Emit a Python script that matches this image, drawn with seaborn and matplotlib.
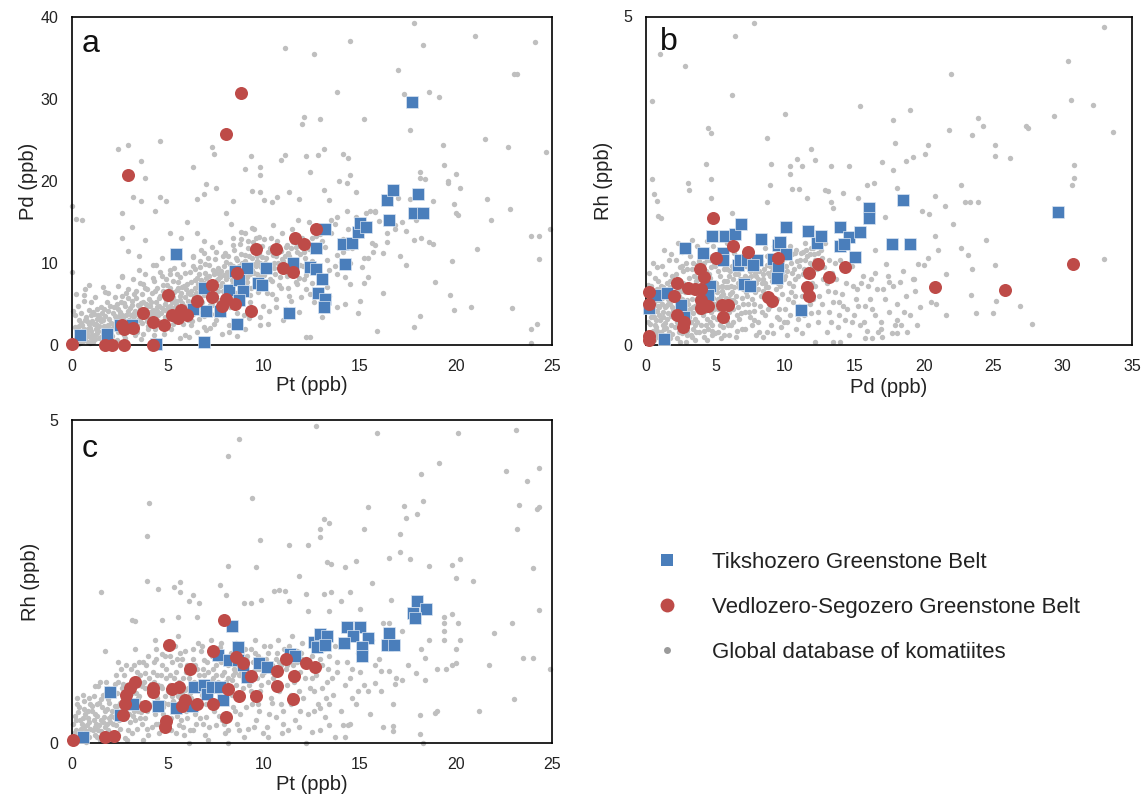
import matplotlib
matplotlib.use("Agg")
import matplotlib.pyplot as plt
from matplotlib.lines import Line2D
import seaborn as sns
import pandas as pd

# ---------------- data ----------------
# Panel a : Pt (x) vs Pd (y)
a_blue = [(0.4,1.2),(1.8,1.4),(2.5,2.4),(3.1,2.5),(4.4,0.1),(5.4,11.1),(6.3,4.4),(6.9,7.0),(6.9,0.4),
          (7.0,4.1),(7.7,4.1),(8.2,6.7),(8.5,9.0),(8.6,2.6),(8.7,7.9),(8.9,6.6),(8.7,5.5),(9.1,9.4),
          (9.7,7.6),(9.9,7.3),(10.1,9.4),(11.3,3.9),(11.5,10.0),(12.4,9.5),(12.7,11.8),(12.7,9.3),
          (13.0,8.0),(12.8,6.4),(13.2,5.6),(13.1,4.6),(13.2,14.2),(14.1,12.3),(14.6,12.5),(14.2,9.9),
          (14.9,13.8),(15.0,14.9),(15.3,14.4),(16.5,15.3),(16.4,17.7),(16.7,18.9),(18.0,18.4),
          (17.8,16.1),(18.3,16.1),(17.7,29.6)]
a_red = [(0.0,0.1),(1.7,0.0),(2.1,0.0),(2.7,0.0),(4.2,0.0),(2.9,20.7),(2.6,2.4),(2.7,1.9),(3.2,2.1),
         (3.7,3.9),(4.2,2.8),(4.8,2.5),(5.0,6.1),(5.2,3.7),(5.5,3.3),(5.7,4.3),(6.0,3.7),(6.5,5.4),
         (7.3,7.3),(7.3,5.8),(7.8,4.7),(8.0,5.6),(8.5,5.0),(8.6,8.8),(9.3,4.1),(9.6,11.7),(10.6,11.7),
         (11.0,9.4),(11.5,8.9),(11.6,13.1),(12.1,12.3),(12.7,14.2),(8.8,30.7),(8.0,25.7)]
a_gray = [
 (0.1,0.3),(0.2,0.8),(0.3,1.5),(0.4,0.2),(0.5,1.1),(0.6,2.0),(0.7,0.6),(0.8,1.4),(0.9,2.6),(0.95,0.3),
 (0.15,2.2),(0.35,3.1),(0.55,0.5),(0.75,3.4),(0.85,1.9),(0.25,1.2),(0.45,2.7),(0.65,1.0),(1.0,1.7),
 (0.05,4.2),(0.3,4.8),(0.6,5.4),(0.9,4.3),(0.2,6.2),(0.7,6.8),
 (1.1,0.4),(1.2,1.2),(1.3,2.1),(1.4,0.8),(1.5,2.9),(1.6,1.6),(1.7,3.5),(1.8,0.9),(1.9,2.4),(1.15,3.8),
 (1.35,1.7),(1.55,0.2),(1.65,2.3),(1.85,4.1),(1.95,1.3),(1.25,2.6),(1.45,3.3),(1.75,1.8),(1.05,2.9),
 (1.5,4.6),(1.8,5.3),(1.2,5.9),(1.6,7.1),(1.9,6.4),(1.3,4.4),(1.0,0.9),
 (2.1,1.1),(2.2,2.3),(2.3,3.2),(2.4,1.6),(2.5,4.0),(2.6,2.8),(2.7,1.2),(2.8,3.6),(2.9,2.1),(3.0,4.5),
 (2.15,3.9),(2.35,0.6),(2.45,2.9),(2.65,3.4),(2.75,4.8),(2.85,1.7),(2.95,3.1),(2.05,2.0),(2.55,5.3),
 (2.25,5.8),(2.8,6.3),(2.4,7.2),(2.9,5.7),(2.6,8.4),(2.2,4.6),(2.7,2.4),
 (3.1,1.8),(3.2,3.0),(3.3,4.2),(3.4,2.5),(3.5,3.7),(3.6,5.1),(3.7,1.4),(3.8,4.4),(3.9,2.9),(4.0,5.6),
 (3.15,5.4),(3.25,2.2),(3.45,4.9),(3.55,3.2),(3.65,6.2),(3.75,3.9),(3.85,5.0),(3.95,2.3),(3.35,6.6),
 (3.7,7.4),(3.2,8.1),(3.9,6.8),(3.5,9.2),(3.8,8.6),(3.05,3.6),(3.6,0.7),(3.3,1.2),
 (4.1,3.1),(4.2,4.3),(4.3,2.0),(4.4,5.2),(4.5,3.6),(4.6,6.0),(4.7,4.5),(4.8,2.7),(4.9,5.5),(5.0,4.0),
 (4.15,6.3),(4.25,1.2),(4.35,3.9),(4.45,7.0),(4.55,4.8),(4.65,2.3),(4.75,6.6),(4.85,3.4),(4.95,7.3),
 (4.2,8.2),(4.6,8.9),(4.4,9.8),(4.9,8.0),(4.7,10.6),(4.3,0.6),(4.8,1.4),(4.05,4.7),
 (5.1,4.7),(5.2,6.1),(5.3,3.3),(5.4,5.4),(5.5,7.0),(5.6,4.1),(5.7,6.4),(5.8,2.6),(5.9,5.8),(6.0,7.5),
 (5.15,2.0),(5.25,7.8),(5.35,4.6),(5.45,6.7),(5.55,3.0),(5.65,8.3),(5.75,5.1),(5.85,7.2),(5.95,4.3),
 (5.3,9.4),(5.8,9.9),(5.5,10.8),(5.1,8.6),(5.9,1.2),(5.6,0.8),(5.2,5.2),
 (6.1,5.0),(6.2,6.6),(6.3,3.8),(6.4,7.9),(6.5,5.6),(6.6,8.6),(6.7,4.6),(6.8,7.0),(6.9,6.1),(7.0,8.2),
 (6.15,8.9),(6.25,2.9),(6.35,6.0),(6.45,4.3),(6.55,7.4),(6.65,9.5),(6.75,5.3),(6.85,3.5),(6.95,9.9),
 (6.3,10.7),(6.7,11.6),(6.5,1.6),(6.9,2.2),(6.1,1.0),(6.6,6.9),(6.4,9.3),
 (7.1,6.4),(7.2,7.6),(7.3,4.9),(7.4,8.7),(7.5,6.0),(7.6,9.4),(7.7,7.2),(7.8,5.3),(7.9,8.5),(8.0,10.1),
 (7.15,9.8),(7.25,3.8),(7.35,6.8),(7.45,10.5),(7.55,7.9),(7.65,4.4),(7.75,9.0),(7.85,6.6),(7.95,11.2),
 (7.3,12.0),(7.7,12.6),(7.2,2.1),(7.8,1.3),(7.5,3.0),(7.6,8.1),
 (8.1,7.0),(8.2,8.8),(8.3,6.1),(8.4,9.6),(8.5,7.7),(8.6,10.4),(8.7,8.2),(8.8,5.5),(8.9,9.9),(9.0,11.0),
 (8.15,10.8),(8.25,4.6),(8.35,7.9),(8.45,11.6),(8.55,6.4),(8.65,9.1),(8.75,12.3),(8.85,7.4),(8.95,3.6),
 (8.4,13.0),(8.8,13.8),(8.2,2.5),(8.6,1.1),(8.9,8.6),(8.3,9.3),
 (9.1,8.3),(9.2,9.7),(9.3,6.9),(9.4,10.6),(9.5,8.8),(9.6,11.4),(9.7,7.6),(9.8,10.0),(9.9,12.1),(10.0,9.2),
 (9.15,11.8),(9.25,5.2),(9.35,9.1),(9.45,12.6),(9.55,7.2),(9.65,10.9),(9.75,13.2),(9.85,8.4),(9.95,4.8),
 (9.4,14.3),(9.8,2.4),(9.2,3.3),(9.6,9.6),
 (10.1,9.9),(10.2,11.3),(10.3,8.0),(10.4,12.0),(10.5,9.4),(10.6,10.8),(10.7,12.7),(10.8,7.3),(10.9,11.5),
 (11.0,10.2),(10.15,6.4),(10.35,13.1),(10.55,8.7),(10.75,10.0),(10.95,13.6),(10.25,4.1),(10.65,5.6),
 (10.45,14.6),(10.85,9.1),
 (11.1,10.9),(11.2,12.2),(11.3,9.0),(11.4,11.8),(11.5,13.4),(11.6,10.3),(11.7,12.6),(11.8,8.2),(11.9,11.1),
 (12.0,13.0),(11.25,6.9),(11.45,14.2),(11.65,7.7),(11.85,9.8),(11.15,4.4),(11.75,15.3),(11.95,5.8),
 (12.1,11.4),(12.3,12.5),(12.5,10.2),(12.7,13.3),(12.9,11.8),(12.2,8.5),(12.6,14.1),(12.8,9.4),(12.4,6.2),
 (13.0,12.7),(12.35,15.0),
 (13.2,12.0),(13.5,13.6),(13.8,11.0),(14.1,12.9),(14.4,14.1),(13.4,9.1),(13.7,14.8),(14.0,10.1),(14.6,11.8),
 (14.9,13.3),(13.3,7.1),(14.2,8.3),(14.8,15.6),
 (15.2,14.0),(15.6,12.4),(16.0,15.1),(16.4,13.7),(15.4,10.6),(16.8,14.6),(16.2,11.2),(15.8,16.2),
 (17.8,39.3),(21.0,37.7),(24.1,37.0),(14.5,37.1),(11.1,36.2),(12.6,35.5),(18.3,36.6),(17.0,33.5),(23.0,33.1),
 (23.2,33.1),(17.3,30.6),(18.6,30.8),(19.1,30.2),(13.8,30.8),(12.1,27.8),(12.0,26.9),(12.9,27.6),(15.2,27.5),
 (17.6,26.2),(21.5,25.1),(24.7,23.5),(19.3,24.4),(22.7,24.2),(2.4,23.9),(2.9,24.4),(4.6,24.9),(7.3,24.2),
 (7.4,23.3),(3.6,22.4),(9.3,23.0),(11.1,23.2),(10.9,22.6),(12.2,23.1),(12.8,23.2),(13.1,23.9),(14.1,23.3),
 (14.4,22.8),(9.8,21.7),(9.8,20.7),(9.0,21.5),(12.4,21.1),(14.5,20.7),(19.4,22.0),(20.0,20.9),(18.1,21.1),
 (18.1,20.4),(19.6,20.0),(19.6,19.8),(18.4,20.2),(20.2,19.1),(3.8,20.4),(3.2,18.1),(3.6,17.5),(4.6,18.1),
 (4.9,17.5),(6.5,17.8),(6.9,18.4),(7.0,19.6),(7.5,19.2),(6.3,21.7),(8.4,17.5),(9.4,18.8),(9.8,18.7),
 (10.0,17.7),(10.4,17.4),(10.7,18.1),(11.3,18.7),(11.8,17.8),(13.1,18.9),(13.4,17.7),(14.8,18.6),(13.9,20.0),
 (14.3,19.8),(17.0,17.9),(18.8,17.6),(19.9,17.2),(20.1,15.9),(21.6,17.8),(21.8,15.3),(22.8,16.6),(23.9,13.3),
 (24.3,13.3),(24.9,14.1),(24.3,10.5),(21.1,11.7),(19.8,10.2),(18.9,7.7),(19.7,6.1),(19.9,4.3),(20.8,4.6),
 (22.9,4.5),(23.9,1.9),(24.2,2.6),(23.9,0.2),(17.8,2.2),(18.1,3.5),(15.9,1.7),(16.2,6.4),(15.0,5.4),
 (14.9,3.9),(14.2,5.0),(14.5,7.5),(12.2,1.0),(12.4,1.0),(17.4,9.8),(17.1,10.9),(17.8,12.8),(18.2,13.1),
 (18.6,12.6),(18.8,12.3),(17.4,13.9),(16.8,14.2),(17.2,15.0),(17.9,15.2),(20.0,16.1),(17.6,17.8),(15.8,12.2),
 (15.7,11.3),(16.4,12.6),(15.5,16.3),(15.8,16.4),(15.3,16.1),(14.3,16.3),(13.8,15.6),(13.5,15.2),(15.2,10.6),
 (15.1,9.5),(15.4,8.3),(15.2,7.6),(14.5,10.0),(13.8,8.6),(0.0,16.9),(0.0,8.9),(0.2,15.4),(0.5,15.2),
 (2.6,16.1),(2.6,13.1),(3.1,14.4),(4.3,16.3),(6.0,15.0),(6.5,13.6),(6.9,12.7),(8.0,16.1),(8.3,14.8),
 (9.0,13.6),(9.5,14.1),(0.9,7.3),(0.6,6.1),(1.0,5.3),(1.7,6.5),(2.6,8.3),(2.9,11.5),(3.5,10.8),(3.8,12.8),
 (4.2,9.8),(5.1,13.6),(5.7,13.0),(6.3,10.8),(6.9,11.2)]
a_gray_core = [
 (0.12,0.6),(0.22,1.9),(0.32,0.1),(0.42,1.3),(0.52,2.4),(0.62,0.9),(0.72,1.7),(0.82,0.4),(0.92,2.1),(1.02,1.2),
 (1.12,2.6),(1.22,0.7),(1.32,1.5),(1.42,2.3),(1.52,1.0),(1.62,3.0),(1.72,0.5),(1.82,2.0),(1.92,3.2),(2.02,1.4),
 (0.18,3.6),(0.48,3.9),(0.78,2.9),(1.08,4.0),(1.38,3.7),(1.68,4.4),(1.98,4.8),(0.38,2.3),(0.68,3.0),(0.98,3.6),
 (1.28,3.2),(1.58,3.9),
 (2.12,2.6),(2.22,3.5),(2.32,1.9),(2.42,4.4),(2.52,2.2),(2.62,3.7),(2.72,5.1),(2.82,2.9),(2.92,4.2),(3.02,2.6),
 (3.12,4.9),(3.22,3.5),(3.32,5.7),(3.42,3.1),(3.52,4.5),(3.62,2.7),(3.72,5.3),(3.82,3.4),(3.92,4.8),(4.02,3.5),
 (2.32,5.0),(2.62,6.0),(2.92,6.8),(3.22,6.2),(3.52,7.6),(3.82,7.0),(2.18,0.3),(2.78,0.9),(3.38,1.6),(3.98,1.9),
 (4.12,5.3),(4.22,3.6),(4.32,6.6),(4.42,4.2),(4.52,5.7),(4.62,3.9),(4.72,7.3),(4.82,5.0),(4.92,6.2),(5.02,4.6),
 (5.12,7.0),(5.22,4.3),(5.32,6.5),(5.42,5.0),(5.52,7.7),(5.62,5.5),(5.72,7.1),(5.82,4.7),(5.92,6.8),(6.02,5.4),
 (4.28,7.8),(4.68,8.4),(5.08,9.2),(5.48,8.7),(5.88,8.8),(4.48,2.9),(4.88,3.1),(5.28,2.6),(5.68,3.4),(6.02,3.1),
 (6.12,6.2),(6.22,7.7),(6.32,5.3),(6.42,6.9),(6.52,8.2),(6.62,5.9),(6.72,7.9),(6.82,6.5),(6.92,8.8),(7.02,6.9),
 (7.12,8.4),(7.22,5.8),(7.32,9.1),(7.42,7.3),(7.52,8.9),(7.62,6.6),(7.72,8.3),(7.82,7.6),(7.92,9.6),(8.02,8.0),
 (6.28,9.6),(6.68,10.2),(7.08,10.6),(7.48,11.4),(7.88,10.8),(6.38,4.4),(6.78,4.0),(7.18,4.9),(7.58,5.5),(7.98,5.8),
 (8.12,8.4),(8.22,9.9),(8.32,7.3),(8.42,8.9),(8.52,10.6),(8.62,8.0),(8.72,9.6),(8.82,11.1),(8.92,8.8),(9.02,10.3),
 (9.12,7.7),(9.22,10.9),(9.32,9.0),(9.42,11.6),(9.52,9.9),(9.62,8.6),(9.72,11.2),(9.82,9.5),(9.92,10.7),(10.02,8.5),
 (8.38,12.2),(8.78,12.9),(9.18,12.7),(9.58,13.1),(9.98,12.9),(8.48,5.9),(8.88,6.6),(9.28,6.1),(9.68,6.5),(10.02,6.9),
 (10.12,10.6),(10.32,11.8),(10.52,10.0),(10.72,11.9),(10.92,10.5),(11.12,12.0),(11.32,10.8),(11.52,12.6),
 (11.72,11.3),(11.92,12.3),(12.12,10.6),(12.32,11.7),(12.52,13.0),(12.72,12.2),(12.92,13.5),(10.42,7.8),
 (10.82,8.3),(11.22,8.4),(11.62,9.2),(12.02,9.6),
 (6.2,2.4),(6.6,3.2),(7.0,1.8),(7.4,2.6),(7.8,3.6),(8.2,1.6),(8.6,3.9),(9.0,2.0),(9.4,4.4),(9.8,3.4),
 (10.2,2.6),(10.6,4.6),(11.0,3.0),(11.4,5.4),(11.8,4.0),(12.2,6.8),(12.6,5.2),(13.0,3.4),(13.4,6.0),(13.8,4.6),
 (10.4,6.2),(10.9,7.0),(11.3,6.0),(11.7,7.4),(12.1,8.0),(12.5,7.6),(12.9,8.8),(13.3,10.4),(13.7,9.6),(14.1,11.4),
 (0.45,0.95),(0.85,1.1),(1.25,1.9),(1.65,1.2),(2.05,2.7),(2.45,3.5),(2.85,2.5),(3.25,3.9),(3.65,4.2),(4.05,4.0),
 (4.45,4.6),(4.85,4.3),(5.25,5.8),(5.65,6.0),(6.05,6.4),(6.45,6.4),(6.85,7.6),(7.25,7.0),(7.65,8.6),(8.05,8.9),
 (8.45,8.4),(8.85,10.0),(9.25,8.6),(9.65,10.2),(10.05,10.0),(10.45,11.0),(10.85,11.6),(11.25,11.2),(11.65,12.0),
 (12.05,11.8)]

# Panel b : Pd (x) vs Rh (y)
b_blue = [(0.24,0.56),(0.72,0.76),(1.49,0.79),(1.30,0.09),(2.5,0.61),(2.76,0.43),(2.81,1.48),(4.09,1.40),
          (4.61,0.90),(4.49,0.76),(4.74,1.66),(5.70,1.66),(5.57,1.40),(5.57,1.29),(6.42,1.69),(6.85,1.84),
          (6.66,1.22),(6.78,1.30),(7.26,1.29),(7.98,1.29),(7.74,1.22),(8.27,1.61),(7.07,0.93),(7.5,0.90),
          (9.18,1.31),(9.54,1.52),(9.66,1.57),(9.5,1.17),(9.42,1.02),(10.07,1.80),(10.07,1.39),(11.15,0.54),
          (11.7,1.74),(12.31,1.56),(12.62,1.66),(13.94,1.80),(13.94,1.51),(14.59,1.64),(14.28,1.54),
          (15.07,1.34),(15.38,1.72),(16.03,2.08),(16.03,1.94),(18.5,2.21),(17.71,1.53),(19.03,1.53),
          (29.68,2.02)]
b_red = [(0.24,0.80),(0.24,0.62),(0.24,0.14),(0.24,0.07),(2.04,0.75),(2.26,0.95),(2.26,0.46),(2.76,0.35),
         (2.69,0.27),(3.05,0.86),(3.53,0.85),(3.97,0.85),(3.89,1.15),(4.2,1.03),(3.97,0.68),(3.97,0.57),
         (4.45,0.59),(4.81,1.94),(5.05,1.33),(5.46,0.61),(5.89,0.61),(5.57,0.43),(6.25,1.51),(7.38,1.42),
         (8.77,0.73),(9.1,0.67),(9.54,1.33),(11.59,0.88),(11.77,0.75),(11.77,1.10),(12.42,1.23),
         (13.19,1.03),(14.35,1.19),(20.84,0.88),(25.83,0.84),(30.76,1.24)]
b_gray = [
 (0.1,0.05),(0.2,0.15),(0.3,0.32),(0.4,0.48),(0.5,0.22),(0.6,0.64),(0.7,0.38),(0.8,0.85),(0.9,0.12),
 (0.15,0.72),(0.25,0.55),(0.35,0.9),(0.45,0.08),(0.55,0.42),(0.65,1.02),(0.75,0.27),(0.85,0.6),(0.95,0.45),
 (0.2,1.1),(0.5,1.25),(0.8,1.18),(0.4,0.7),(0.7,0.18),(0.3,0.03),(0.9,0.75),
 (1.1,0.2),(1.2,0.5),(1.3,0.78),(1.4,0.34),(1.5,0.95),(1.6,0.12),(1.7,0.62),(1.8,0.44),(1.9,1.05),(1.15,1.2),
 (1.25,0.06),(1.35,0.58),(1.45,0.26),(1.55,0.7),(1.65,1.3),(1.75,0.88),(1.85,0.16),(1.95,0.52),(1.05,0.9),
 (1.5,0.4),(1.3,1.45),(1.8,1.38),(1.6,0.82),(1.2,0.3),
 (2.1,0.28),(2.2,0.66),(2.3,1.0),(2.4,0.45),(2.5,0.82),(2.6,0.18),(2.7,1.12),(2.8,0.55),(2.9,0.92),(3.0,0.36),
 (2.15,1.3),(2.25,0.1),(2.35,0.74),(2.45,1.18),(2.55,0.5),(2.65,0.95),(2.75,0.3),(2.85,1.25),(2.95,0.68),
 (2.3,1.55),(2.6,1.42),(2.9,0.05),(2.4,0.85),(2.7,0.62),
 (3.1,0.42),(3.2,0.8),(3.3,1.15),(3.4,0.25),(3.5,0.6),(3.6,0.98),(3.7,0.35),(3.8,1.28),(3.9,0.72),(4.0,0.5),
 (3.15,1.35),(3.25,0.15),(3.35,0.9),(3.45,1.05),(3.55,0.4),(3.65,1.22),(3.75,0.65),(3.85,0.2),(3.95,1.1),
 (3.3,1.6),(3.7,1.5),(3.5,0.08),(3.9,0.88),(3.2,0.55),
 (4.1,0.68),(4.2,1.0),(4.3,0.3),(4.4,1.3),(4.5,0.55),(4.6,0.85),(4.7,1.18),(4.8,0.42),(4.9,0.95),(5.0,0.62),
 (4.15,0.12),(4.25,1.42),(4.35,0.78),(4.45,0.25),(4.55,1.08),(4.65,0.5),(4.75,1.35),(4.85,0.72),(4.95,0.18),
 (4.4,1.58),(4.8,1.5),(4.3,0.92),(4.6,0.35),(4.9,1.22),
 (5.1,0.8),(5.2,1.12),(5.3,0.45),(5.4,1.3),(5.5,0.65),(5.6,0.98),(5.7,1.2),(5.8,0.35),(5.9,0.88),(6.0,1.05),
 (5.15,0.2),(5.25,1.45),(5.35,0.58),(5.45,0.9),(5.55,0.28),(5.65,1.38),(5.75,0.72),(5.85,1.15),(5.95,0.5),
 (5.4,0.1),(5.8,1.55),(5.2,0.7),(5.6,0.15),
 (6.1,0.9),(6.2,1.2),(6.3,0.55),(6.4,1.08),(6.5,0.75),(6.6,1.3),(6.7,0.4),(6.8,1.0),(6.9,1.25),(7.0,0.62),
 (6.15,0.3),(6.35,1.4),(6.55,0.22),(6.75,1.15),(6.95,0.85),(6.25,0.68),(6.45,0.12),(6.65,0.95),(6.85,0.48),
 (6.5,1.5),
 (7.1,1.05),(7.2,0.8),(7.3,1.25),(7.4,0.5),(7.5,1.12),(7.6,0.7),(7.7,1.32),(7.8,0.38),(7.9,0.95),(8.0,1.2),
 (7.15,0.25),(7.35,0.62),(7.55,1.4),(7.75,0.88),(7.95,0.15),(7.25,1.45),(7.65,0.3),(7.85,1.1),
 (8.1,1.0),(8.2,0.6),(8.3,1.28),(8.4,0.82),(8.5,1.15),(8.6,0.45),(8.7,1.35),(8.8,0.72),(8.9,1.05),(9.0,0.3),
 (8.15,0.2),(8.35,0.95),(8.55,1.48),(8.75,0.55),(8.95,1.2),(8.45,0.12),(8.65,0.88),
 (9.1,1.12),(9.2,0.65),(9.3,1.3),(9.4,0.42),(9.5,0.95),(9.6,1.2),(9.7,0.28),(9.8,0.78),(9.9,1.38),(10.0,1.05),
 (9.15,0.18),(9.35,0.85),(9.55,0.55),(9.75,1.08),(9.95,0.35),(9.25,1.5),
 (10.1,1.2),(10.2,0.7),(10.3,1.35),(10.4,0.45),(10.5,1.1),(10.6,0.9),(10.7,1.4),(10.8,0.25),(10.9,1.28),
 (11.0,0.6),(10.15,0.15),(10.45,0.8),(10.75,1.0),(10.95,0.4),(10.35,1.5),
 (11.1,1.3),(11.2,0.55),(11.3,1.42),(11.4,1.15),(11.5,0.85),(11.6,1.35),(11.7,0.3),(11.8,1.25),(11.9,1.48),
 (12.0,0.7),(11.25,0.18),(11.55,1.05),(11.85,0.48),(11.45,1.55),
 (12.1,1.38),(12.2,0.9),(12.3,1.5),(12.4,0.35),(12.5,1.25),(12.6,1.45),(12.7,0.62),(12.8,1.18),(12.9,1.55),
 (13.0,0.2),(12.15,0.05),(12.45,0.75),(12.75,1.0),
 (13.2,0.5),(13.4,1.1),(13.6,0.8),(13.8,0.28),(14.0,1.3),(14.2,0.6),(14.4,0.95),(14.6,0.15),(14.8,1.2),
 (15.0,0.45),(15.2,0.85),(15.4,0.3),(15.6,1.05),(15.8,0.6),(16.0,0.9),(13.5,0.05),(14.3,0.38),(15.1,0.7),
 (15.9,0.22),
 (16.3,0.55),(16.6,0.85),(16.9,0.35),(17.2,0.7),(17.5,0.5),(17.8,0.9),(18.1,0.62),(18.4,0.3),(18.7,0.75),
 (19.0,0.45),(19.4,0.82),(19.7,0.58),(16.5,1.1),(17.4,1.05),(18.5,1.12),(19.2,1.0),(17.0,0.12),(18.8,0.2),
 (7.8,4.90),(6.4,4.70),(1.0,4.43),(2.8,4.25),(0.4,3.71),(6.2,3.80),(15.4,3.64),(19.0,3.57),(22.0,4.12),
 (30.4,4.32),(33.0,4.84),(30.6,3.73),(32.2,3.66),(29.4,3.49),(33.6,3.24),(27.4,3.33),(27.5,3.31),(23.9,3.46),
 (24.3,3.33),(21.8,3.28),(23.5,3.19),(25.1,3.05),(25.1,2.88),(26.2,2.85),(17.8,3.42),(17.9,3.08),(20.3,3.05),
 (20.1,2.90),(19.2,2.86),(18.7,2.80),(10.0,3.51),(8.7,3.15),(4.5,3.31),(4.7,3.22),(4.3,2.76),(4.7,2.52),
 (0.4,2.52),(0.6,2.30),(0.8,2.19),(0.9,1.96),(1.1,1.94),(3.0,2.46),(3.1,2.36),(4.7,2.23),(6.2,2.01),
 (9.0,2.75),(10.4,2.73),(10.4,2.61),(10.9,2.83),(11.2,2.73),(11.9,2.98),(12.2,2.81),(13.3,2.73),(14.6,2.73),
 (17.0,2.79),(17.8,2.66),(16.4,2.47),(15.9,2.44),(18.1,2.39),(8.9,2.44),(10.5,2.38),(11.0,2.38),(8.7,2.18),
 (11.6,2.23),(12.9,2.36),(13.1,2.35),(13.3,2.18),(14.2,2.32),(13.5,2.09),(15.3,2.23),(20.8,2.27),(22.7,2.43),
 (23.0,2.18),(23.3,2.18),(23.9,2.18),(30.8,2.74),(30.8,2.54),(30.7,2.44),(19.9,2.04),(20.4,2.00),(21.5,2.12),
 (22.1,1.84),(20.8,1.66),(21.0,1.44),(22.7,1.48),(23.2,1.37),(24.5,1.60),(16.5,1.45),(17.2,1.95),(17.3,1.24),
 (20.3,1.33),(19.6,1.24),(20.0,1.22),(21.6,1.08),(23.5,1.15),(25.1,1.22),(33.0,1.31),(19.3,1.00),(17.5,0.96),
 (18.3,0.96),(20.5,0.66),(20.9,0.62),(23.4,0.76),(25.2,0.67),(26.9,0.59),(25.0,0.49),(23.8,0.49),(21.6,0.46),
 (27.8,0.32),(18.1,0.38),(17.7,0.18),(18.1,0.18),(16.9,0.25),(15.8,0.11),(16.3,0.11),(14.0,0.05)]
b_gray_core = [
 (0.12,0.35),(0.22,0.62),(0.32,0.78),(0.42,0.18),(0.52,0.55),(0.62,0.3),(0.72,0.68),(0.82,0.22),(0.92,0.58),
 (1.02,0.38),(1.12,0.72),(1.22,0.88),(1.32,0.25),(1.42,0.6),(1.52,0.12),(1.62,0.48),(1.72,0.98),(1.82,0.3),
 (1.92,0.75),(0.18,0.92),(0.48,0.82),(0.78,0.52),(1.08,0.05),(1.38,1.08),(1.68,0.2),(1.98,0.9),(0.58,0.08),
 (0.88,0.98),(1.18,0.62),(1.48,0.82),
 (2.02,0.42),(2.12,0.8),(2.22,0.35),(2.32,0.58),(2.42,0.98),(2.52,0.25),(2.62,0.7),(2.72,0.45),(2.82,0.8),
 (2.92,0.22),(3.02,0.62),(3.12,1.02),(3.22,0.35),(3.32,0.7),(3.42,0.48),(3.52,0.88),(3.62,0.2),(3.72,0.78),
 (3.82,0.5),(3.92,1.0),(2.18,1.08),(2.58,1.2),(2.98,1.15),(3.38,1.25),(3.78,1.02),(2.48,0.05),(2.88,0.4),
 (3.28,0.12),(3.68,0.55),(3.98,0.3),
 (4.02,0.82),(4.12,0.45),(4.22,0.62),(4.32,1.12),(4.42,0.4),(4.52,0.72),(4.62,1.02),(4.72,0.3),(4.82,0.85),
 (4.92,0.55),(5.02,0.95),(5.12,0.4),(5.22,0.88),(5.32,1.05),(5.42,0.75),(5.52,0.5),(5.62,1.15),(5.72,0.6),
 (5.82,0.98),(5.92,0.3),(4.18,1.25),(4.58,1.3),(4.98,1.2),(5.38,1.25),(5.78,1.35),(4.38,0.08),(4.78,0.15),
 (5.18,0.55),(5.58,0.78),(5.98,0.7),
 (6.05,1.12),(6.18,0.8),(6.3,1.0),(6.42,0.65),(6.55,1.22),(6.68,0.88),(6.8,1.15),(6.92,0.72),(7.05,0.95),
 (7.18,1.2),(7.3,0.75),(7.42,1.02),(7.55,0.9),(7.68,1.18),(7.8,0.62),(7.92,1.05),(8.05,0.85),(8.18,1.25),
 (8.3,0.75),(8.42,1.08),(8.55,0.95),(8.68,1.22),(8.8,0.88),(8.92,1.3),(6.3,0.35),(6.9,0.25),(7.5,0.42),
 (8.1,0.35),(8.7,0.2),(6.6,0.58),
 (9.05,0.98),(9.18,1.25),(9.3,1.05),(9.42,1.35),(9.55,1.15),(9.68,0.9),(9.8,1.28),(9.92,1.0),(10.05,1.32),
 (10.18,1.12),(10.3,0.95),(10.42,1.25),(10.55,1.38),(10.68,1.15),(10.8,1.45),(10.92,1.05),(11.05,1.2),
 (11.18,1.4),(11.3,1.08),(11.42,1.3),(11.55,1.45),(11.68,1.15),(11.8,1.38),(11.92,1.22),(12.05,1.48),
 (12.18,1.3),(12.3,1.15),(12.42,1.4),(12.55,1.55),(12.68,1.32),(9.4,0.7),(10.0,0.55),(10.6,0.65),(11.2,0.75),
 (11.8,0.62),(12.4,0.5),
 (13.1,0.82),(13.3,0.35),(13.5,0.65),(13.7,1.0),(13.9,0.45),(14.1,0.78),(14.5,0.55),(14.9,0.9),(15.3,0.6),
 (15.7,0.35),(16.1,0.7),(16.5,0.45),(13.2,1.3),(13.6,1.25),(14.4,1.15),
 (0.35,0.42),(0.65,0.52),(0.95,0.68),(1.25,0.42),(1.55,0.62),(1.85,0.58),(2.15,0.52),(2.45,0.68),(2.75,0.62),
 (3.05,0.5),(3.35,0.58),(3.65,0.7),(3.95,0.62),(4.25,0.52),(4.55,0.62),(4.85,0.62),(5.15,0.68),(5.45,0.82),
 (5.75,0.88),(6.05,0.78),(6.35,0.88),(6.65,1.08),(6.95,1.0),(7.25,0.9),(7.55,1.05),(7.85,0.8),(8.15,1.12),
 (8.45,1.0),(8.75,1.1),(9.05,1.2),
 (0.55,0.15),(1.15,0.15),(1.75,0.1),(2.35,0.2),(2.95,0.15),(3.55,0.3),(4.15,0.22),(4.75,0.22),(5.35,0.3),
 (5.95,0.15),(6.55,0.45),(7.15,0.5),(7.75,0.52),(8.35,0.5),(8.95,0.6),(9.55,0.4),(10.15,0.35),(10.75,0.75),
 (11.35,0.45),(11.95,0.95),
 (13.0,0.95),(13.9,0.65),(14.8,0.35),(15.5,0.95),(16.2,1.0),(17.1,0.85),(17.9,0.3),(18.6,0.5),(19.5,0.3),
 (16.7,0.2)]

# Panel c : Pt (x) vs Rh (y)
c_blue = [(0.57,0.10),(1.96,0.79),(2.51,0.43),(3.17,0.60),(4.47,0.57),(5.42,0.54),(6.23,0.58),(6.37,0.87),
          (6.89,0.90),(7.01,0.76),(7.27,0.86),(7.7,0.86),(7.84,0.67),(7.58,1.36),(8.31,1.81),(8.19,1.29),
          (8.63,1.48),(8.65,1.29),(8.92,1.21),(9.14,1.02),(9.76,1.24),(10.14,1.17),(11.37,1.37),(11.6,1.34),
          (12.58,1.57),(12.9,1.69),(13.28,1.65),(12.76,1.48),(13.19,1.51),(14.32,1.79),(15.01,1.79),
          (14.63,1.66),(14.18,1.55),(15.4,1.62),(15.1,1.49),(15.1,1.34),(16.52,1.70),(16.4,1.52),
          (16.75,1.52),(17.97,2.20),(18.44,2.08),(17.74,2.02),(17.88,1.93)]
c_red = [(0.03,0.05),(1.7,0.09),(2.17,0.11),(2.64,0.43),(2.78,0.61),(2.83,0.74),(3.04,0.85),(3.30,0.94),
         (3.78,0.57),(4.22,0.85),(4.22,0.79),(4.82,0.25),(4.89,0.34),(5.06,1.51),(5.2,0.83),(5.55,0.86),
         (5.73,0.58),(5.9,0.66),(6.12,1.15),(6.5,0.61),(7.34,1.42),(7.34,0.61),(7.9,1.91),(8.02,0.40),
         (8.1,0.83),(8.54,1.33),(8.71,0.72),(8.9,1.24),(9.32,1.04),(9.6,0.72),(10.67,1.11),(10.67,0.88),
         (11.14,1.30),(11.54,1.04),(11.5,0.68),(12.19,1.24),(12.67,1.18)]
c_gray = [
 (0.1,0.05),(0.2,0.2),(0.3,0.12),(0.4,0.35),(0.5,0.08),(0.6,0.25),(0.7,0.45),(0.8,0.15),(0.9,0.32),(0.15,0.42),
 (0.35,0.55),(0.55,0.38),(0.75,0.02),(0.95,0.6),(0.25,0.7),(0.65,0.65),(0.85,0.5),(0.45,0.22),(0.05,0.3),(0.9,0.1),
 (1.1,0.2),(1.2,0.45),(1.3,0.1),(1.4,0.62),(1.5,0.35),(1.6,0.75),(1.7,0.25),(1.8,0.52),(1.9,0.85),(2.0,0.15),
 (1.15,0.72),(1.25,0.3),(1.35,0.88),(1.45,0.05),(1.55,0.55),(1.65,0.4),(1.75,0.95),(1.85,0.68),(1.95,0.38),
 (1.05,0.5),(1.5,0.18),(1.3,0.6),(1.8,0.08),
 (2.1,0.5),(2.2,0.75),(2.3,0.28),(2.4,0.95),(2.5,0.62),(2.6,0.4),(2.7,1.05),(2.8,0.55),(2.9,0.2),(3.0,0.82),
 (2.15,0.12),(2.25,0.92),(2.35,0.58),(2.45,0.35),(2.55,1.15),(2.65,0.7),(2.75,0.08),(2.85,0.9),(2.95,0.45),
 (2.4,1.25),(2.2,0.4),(2.8,1.2),(2.6,0.85),
 (3.1,0.6),(3.2,0.9),(3.3,0.35),(3.4,1.1),(3.5,0.72),(3.6,0.48),(3.7,1.25),(3.8,0.85),(3.9,0.22),(4.0,1.0),
 (3.15,0.15),(3.25,1.2),(3.35,0.78),(3.45,0.5),(3.55,1.05),(3.65,0.3),(3.75,0.95),(3.85,0.62),(3.95,1.35),
 (3.3,1.45),(3.7,0.05),(3.5,0.9),
 (4.1,0.75),(4.2,1.1),(4.3,0.45),(4.4,1.3),(4.5,0.9),(4.6,0.6),(4.7,1.2),(4.8,0.35),(4.9,1.0),(5.0,0.8),
 (4.15,0.25),(4.25,0.95),(4.35,1.45),(4.45,0.7),(4.55,0.15),(4.65,1.05),(4.75,0.55),(4.85,1.35),(4.95,0.4),
 (4.3,1.6),(4.7,0.85),(4.5,0.3),
 (5.1,0.9),(5.2,1.25),(5.3,0.5),(5.4,1.1),(5.5,0.72),(5.6,1.4),(5.7,0.35),(5.8,1.0),(5.9,0.82),(6.0,1.2),
 (5.15,0.2),(5.25,0.65),(5.35,1.5),(5.45,0.42),(5.55,0.95),(5.65,0.6),(5.75,1.3),(5.85,0.12),(5.95,0.5),
 (5.5,1.65),(5.3,0.85),(5.8,0.25),
 (6.1,1.0),(6.2,0.7),(6.3,1.3),(6.4,0.45),(6.5,1.15),(6.6,0.85),(6.7,1.42),(6.8,0.3),(6.9,1.05),(7.0,0.6),
 (6.15,0.2),(6.35,0.95),(6.55,1.55),(6.75,0.75),(6.95,0.12),(6.25,1.2),(6.45,0.55),(6.85,1.28),(6.65,0.38),
 (7.1,1.1),(7.2,0.8),(7.3,1.35),(7.4,0.5),(7.5,1.2),(7.6,0.95),(7.7,1.48),(7.8,0.35),(7.9,1.1),(8.0,0.7),
 (7.15,0.25),(7.35,1.0),(7.55,0.6),(7.75,1.25),(7.95,0.15),(7.25,1.6),(7.65,0.42),(7.85,0.88),
 (8.1,1.2),(8.2,0.85),(8.3,1.4),(8.4,0.55),(8.5,1.1),(8.6,0.3),(8.7,1.3),(8.8,0.7),(8.9,1.0),(9.0,1.45),
 (8.15,0.2),(8.35,0.98),(8.55,1.55),(8.75,0.45),(8.95,0.1),(8.45,0.75),(8.65,1.2),
 (9.1,1.25),(9.2,0.9),(9.3,1.45),(9.4,0.6),(9.5,1.12),(9.6,0.35),(9.7,1.35),(9.8,0.8),(9.9,1.05),(10.0,1.5),
 (9.15,0.22),(9.35,1.0),(9.55,1.6),(9.75,0.5),(9.95,0.15),(9.45,0.75),(9.85,1.25),
 (10.1,1.3),(10.2,0.95),(10.3,1.5),(10.4,0.62),(10.5,1.15),(10.6,0.4),(10.7,1.4),(10.8,0.8),(10.9,1.2),
 (11.0,0.5),(10.15,0.25),(10.45,1.0),(10.75,1.6),(10.95,0.15),(10.35,0.7),
 (11.1,1.35),(11.2,0.9),(11.3,1.5),(11.4,0.6),(11.5,1.2),(11.6,0.35),(11.7,1.42),(11.8,0.8),(11.9,1.1),
 (12.0,1.55),(11.25,0.2),(11.55,0.95),(11.85,0.5),(11.45,1.65),
 (12.2,1.3),(12.4,0.85),(12.6,1.45),(12.8,0.6),(13.0,1.2),(13.2,0.4),(13.4,1.35),(13.6,0.75),(13.8,1.1),
 (14.0,0.5),(12.5,1.0),(12.9,0.2),(13.3,0.95),(13.7,1.5),(12.3,0.45),
 (14.3,1.25),(14.6,0.7),(14.9,1.4),(15.2,0.9),(15.5,0.45),(15.8,1.2),(16.1,0.8),(16.4,1.5),(16.7,0.6),
 (14.5,0.3),(15.0,1.1),(15.6,1.6),(16.2,0.25),
 (12.7,4.91),(15.9,4.80),(20.1,4.80),(23.1,4.84),(8.7,4.71),(8.1,4.44),(19.1,4.33),(18.2,4.16),(22.6,4.21),
 (24.3,4.26),(23.7,4.05),(9.4,3.80),(4.0,3.71),(18.3,3.74),(17.3,3.67),(15.4,3.65),(23.3,3.69),(24.3,3.66),
 (24.2,3.63),(17.4,3.49),(17.97,3.54),(13.1,3.46),(13.4,3.41),(12.9,3.31),(12.9,3.19),(15.2,3.31),(23.2,3.32),
 (3.9,3.20),(9.8,3.14),(11.3,3.06),(12.3,3.06),(17.1,3.24),(17.1,2.96),(16.5,2.87),(17.6,2.85),(18.6,2.74),
 (19.8,2.76),(20.2,2.85),(20.0,2.56),(20.9,2.51),(24.0,2.71),(24.3,2.06),(22.0,1.70),(22.9,1.85),(24.9,1.14),
 (23.0,0.68),(21.2,0.50),(23.5,1.31),(24.0,1.32),(21.7,1.20),(20.2,1.59),(20.0,1.45),(19.8,1.20),(20.0,1.24),
 (19.5,1.15),(19.4,1.95),(19.4,1.86),(19.4,1.73),(19.4,1.59),(19.8,1.99),(20.1,1.86),(19.0,1.14),(19.0,0.50),
 (18.9,0.47),(18.1,0.44),(18.1,0.14),(16.7,0.27),(16.7,0.18),(18.4,0.98),(18.4,1.32),(17.9,1.08),(18.2,1.45),
 (18.6,1.59),(16.8,0.92),(16.5,1.12),(15.8,0.93),(16.1,1.12),(17.2,0.98),(17.2,1.73),(16.5,1.85),(16.2,1.86),
 (16.6,2.21),(15.6,2.47),(15.0,2.08),(14.8,2.81),(14.2,2.72),(13.3,2.80),(13.5,2.77),(14.9,0.80),(14.5,1.01),
 (14.1,0.28),(14.4,0.28),(13.7,0.10),(14.2,0.10),(12.5,0.17),(12.2,0.0),(18.3,0.0),(6.1,0.0),(8.1,0.0),
 (12.9,0.54),(13.4,0.28),(1.5,2.34),(1.7,1.43),(3.9,2.51),(4.5,2.38),(4.7,1.90),(5.3,2.42),(5.6,2.49),
 (5.6,2.34),(6.1,2.20),(6.6,2.17),(6.3,2.29),(5.5,1.95),(6.5,1.95),(3.1,1.91),(3.3,1.89),(8.1,2.74),(7.7,2.45),
 (8.0,2.29),(8.97,2.17),(9.3,2.16),(9.6,2.72),(9.85,2.22),(10.5,2.35),(10.8,2.37),(11.1,2.35),(11.3,2.20),
 (11.8,2.59),(12.2,2.30),(12.3,2.05),(13.1,2.31),(13.5,2.34),(13.4,2.04),(14.0,2.20),(14.5,2.33)]
c_gray_core = [
 (0.12,0.15),(0.22,0.35),(0.32,0.48),(0.42,0.08),(0.52,0.3),(0.62,0.52),(0.72,0.18),(0.82,0.38),(0.92,0.22),
 (1.02,0.58),(1.12,0.35),(1.22,0.12),(1.32,0.42),(1.42,0.28),(1.52,0.68),(1.62,0.15),(1.72,0.5),(1.82,0.3),
 (1.92,0.62),(2.02,0.42),(0.28,0.6),(0.58,0.75),(0.88,0.7),(1.18,0.88),(1.48,0.95),(1.78,0.78),(0.18,0.02),
 (0.68,0.05),(1.38,0.2),(1.88,0.2),
 (2.12,0.3),(2.22,0.58),(2.32,0.78),(2.42,0.48),(2.52,0.22),(2.62,0.62),(2.72,0.4),(2.82,0.75),(2.92,0.62),
 (3.02,0.32),(3.12,0.78),(3.22,0.5),(3.32,1.0),(3.42,0.7),(3.52,0.38),(3.62,0.88),(3.72,0.6),(3.82,1.08),
 (3.92,0.5),(4.02,0.8),(2.28,1.05),(2.68,0.92),(3.08,1.15),(3.48,1.25),(3.88,1.2),(2.38,0.12),(2.88,0.05),
 (3.38,0.22),(3.78,0.38),(3.98,0.12),
 (4.12,0.92),(4.22,0.6),(4.32,0.82),(4.42,1.05),(4.52,0.62),(4.62,0.88),(4.72,0.45),(4.82,0.72),(4.92,1.15),
 (5.02,0.6),(5.12,1.05),(5.22,0.78),(5.32,1.0),(5.42,0.6),(5.52,0.85),(5.62,1.2),(5.72,0.78),(5.82,0.55),
 (5.92,1.1),(6.02,0.85),(4.28,1.25),(4.68,1.38),(5.08,1.35),(5.48,1.3),(5.88,1.42),(4.38,0.3),(4.78,0.2),
 (5.18,0.38),(5.58,0.28),(5.98,0.38),
 (6.12,0.78),(6.22,1.1),(6.32,0.88),(6.42,1.2),(6.52,0.65),(6.62,1.05),(6.72,0.9),(6.82,1.15),(6.92,0.78),
 (7.02,1.25),(7.12,0.92),(7.22,0.62),(7.32,1.15),(7.42,0.85),(7.52,1.05),(7.62,1.3),(7.72,0.72),(7.82,1.05),
 (7.92,0.9),(8.02,1.3),(6.28,1.45),(6.78,1.5),(7.28,1.45),(7.78,1.55),(6.48,0.3),(6.98,0.4),(7.48,0.28),
 (7.98,0.45),
 (8.12,1.0),(8.22,1.25),(8.32,0.75),(8.42,1.15),(8.52,0.9),(8.62,1.35),(8.72,1.05),(8.82,1.2),(8.92,0.85),
 (9.02,1.1),(9.12,1.35),(9.22,1.05),(9.32,0.8),(9.42,1.25),(9.52,1.4),(9.62,1.0),(9.72,1.15),(9.82,0.9),
 (9.92,1.3),(10.02,1.1),(10.22,1.4),(10.42,1.2),(10.62,1.3),(10.82,1.1),(11.02,1.45),(8.48,0.5),(9.08,0.55),
 (9.68,0.6),(10.28,0.45),(10.88,0.6),
 (11.12,1.15),(11.32,1.3),(11.52,1.05),(11.72,1.25),(11.92,1.4),(12.12,1.0),(12.32,1.2),(12.52,1.35),
 (12.72,1.05),(12.92,1.3),(13.12,1.45),(13.32,1.15),(13.52,1.0),(11.42,0.75),(12.02,0.7),(12.62,0.8),(13.22,0.7),
 (0.4,0.18),(0.8,0.28),(1.2,0.25),(1.6,0.32),(2.0,0.32),(2.4,0.45),(2.8,0.4),(3.2,0.42),(3.6,0.62),(4.0,0.55),
 (4.4,0.52),(4.8,0.62),(5.2,0.72),(5.6,0.7),(6.0,0.68),(6.4,0.85),(6.8,0.92),(7.2,0.95),(7.6,0.8),(8.0,0.95),
 (8.4,1.05),(8.8,1.1),(9.2,1.0),(9.6,1.15),(10.0,1.2),(10.4,1.1),(10.8,1.25),(11.2,1.2),(11.6,1.1),(12.0,1.3),
 (5.4,0.15),(6.3,0.2),(7.1,0.05),(7.9,0.3),(8.7,0.2),(9.5,0.25),(10.2,0.1),(11.0,0.3),(11.8,0.25),(12.6,0.5),
 (13.4,0.6),(14.2,0.9),(14.8,0.6),(15.4,0.8),(16.0,1.3),(16.9,1.0),(17.5,1.2),(13.0,0.85),(13.8,1.25),(14.6,1.15)]

legend_labels = ["Tikshozero Greenstone Belt", "Vedlozero-Segozero Greenstone Belt",
                 "Global database of komatiites"]
a_yticks = [0, 5, 10, 15, 20, 25, 30, 35, 40]
a_yticklabels = ["0", "", "10", "", "20", "", "30", "", "40"]
rh_yticks = [0, 1, 2, 3, 4, 5]
rh_yticklabels = ["0", "", "", "", "", "5"]
pt_xticks = [0, 5, 10, 15, 20, 25]
pd_xticks = [0, 5, 10, 15, 20, 25, 30, 35]

# ---------------- style ----------------
sns.set_style("white")
plt.rcParams['font.family'] = ['Liberation Sans', 'DejaVu Sans']

BLUE = "#4A7EBB"
RED = "#BE4B48"
GRAY = "#BFBFBF"

W, H = 1147, 800
fig = plt.figure(figsize=(W / 100, H / 100), dpi=100)


def axes_px(left, top, right, bottom):
    return fig.add_axes([left / W, 1 - bottom / H, (right - left) / W, (bottom - top) / H])


ax_a = axes_px(72, 17, 552, 345)
ax_b = axes_px(646, 16.5, 1132, 345)
ax_c = axes_px(72, 420, 552, 743)


def df(points, xname, yname):
    return pd.DataFrame(points, columns=[xname, yname])


def draw(ax, gray, blue, red, xname, yname):
    sns.scatterplot(data=df(gray, xname, yname), x=xname, y=yname, ax=ax, color=GRAY,
                    s=15, linewidth=0, legend=False, clip_on=False, zorder=2)
    sns.scatterplot(data=df(blue, xname, yname), x=xname, y=yname, ax=ax, color=BLUE,
                    marker="s", s=80, linewidth=0.5, edgecolor="#dce6f2", legend=False,
                    clip_on=False, zorder=3)
    sns.scatterplot(data=df(red, xname, yname), x=xname, y=yname, ax=ax, color=RED,
                    marker="o", s=88, linewidth=0, legend=False, clip_on=False, zorder=4)


draw(ax_a, a_gray + a_gray_core, a_blue, a_red, "Pt", "Pd")
draw(ax_b, b_gray + b_gray_core, b_blue, b_red, "Pd", "Rh")
draw(ax_c, c_gray + c_gray_core, c_blue, c_red, "Pt", "Rh")

for ax in (ax_a, ax_b, ax_c):
    for sp in ax.spines.values():
        sp.set_visible(True)
        sp.set_color("black")
        sp.set_linewidth(1.2)
    ax.tick_params(direction="in", length=3.5, width=1.0, labelsize=11.5, pad=10,
                   colors="black", labelcolor="#222222")
    ax.set_facecolor("white")

ax_a.set_xlim(0, 25); ax_a.set_ylim(0, 40)
ax_a.set_xticks(pt_xticks); ax_a.set_yticks(a_yticks); ax_a.set_yticklabels(a_yticklabels)
ax_b.set_xlim(0, 35); ax_b.set_ylim(0, 5)
ax_b.set_xticks(pd_xticks); ax_b.set_yticks(rh_yticks); ax_b.set_yticklabels(rh_yticklabels)
ax_c.set_xlim(0, 25); ax_c.set_ylim(0, 5)
ax_c.set_xticks(pt_xticks); ax_c.set_yticks(rh_yticks); ax_c.set_yticklabels(rh_yticklabels)

lab = dict(fontsize=14.5, color="#222222")
ax_a.set_xlabel("Pt (ppb)", **lab); ax_a.set_ylabel("Pd (ppb)", **lab)
ax_b.set_xlabel("Pd (ppb)", **lab); ax_b.set_ylabel("Rh (ppb)", **lab)
ax_c.set_xlabel("Pt (ppb)", **lab); ax_c.set_ylabel("Rh (ppb)", **lab)
ax_a.xaxis.set_label_coords(0.5, -0.094); ax_a.yaxis.set_label_coords(-0.071, 0.5)
ax_b.xaxis.set_label_coords(0.5, -0.100); ax_b.yaxis.set_label_coords(-0.068, 0.5)
ax_c.xaxis.set_label_coords(0.5, -0.099); ax_c.yaxis.set_label_coords(-0.067, 0.5)

for ax, letter, x, y in ((ax_a, "a", 0.021, 0.893), (ax_b, "b", 0.029, 0.898), (ax_c, "c", 0.021, 0.885)):
    ax.text(x, y, letter, transform=ax.transAxes, fontsize=23, ha="left", va="baseline",
            color="#111111", zorder=6)

handles = [
    Line2D([], [], linestyle="none", marker="s", markersize=9, markerfacecolor=BLUE, markeredgewidth=0),
    Line2D([], [], linestyle="none", marker="o", markersize=10, markerfacecolor=RED, markeredgewidth=0),
    Line2D([], [], linestyle="none", marker="o", markersize=5, markerfacecolor="#9a9a9a", markeredgewidth=0),
]
fig.legend(handles, legend_labels, loc="upper left", bbox_to_anchor=(656 / W, 1 - 552 / H),
           frameon=False, fontsize=16, handlelength=1.0, handletextpad=1.5, labelspacing=1.08,
           borderpad=0, borderaxespad=0, labelcolor="#222222")

fig.savefig("out.png", dpi=100, facecolor="white")
